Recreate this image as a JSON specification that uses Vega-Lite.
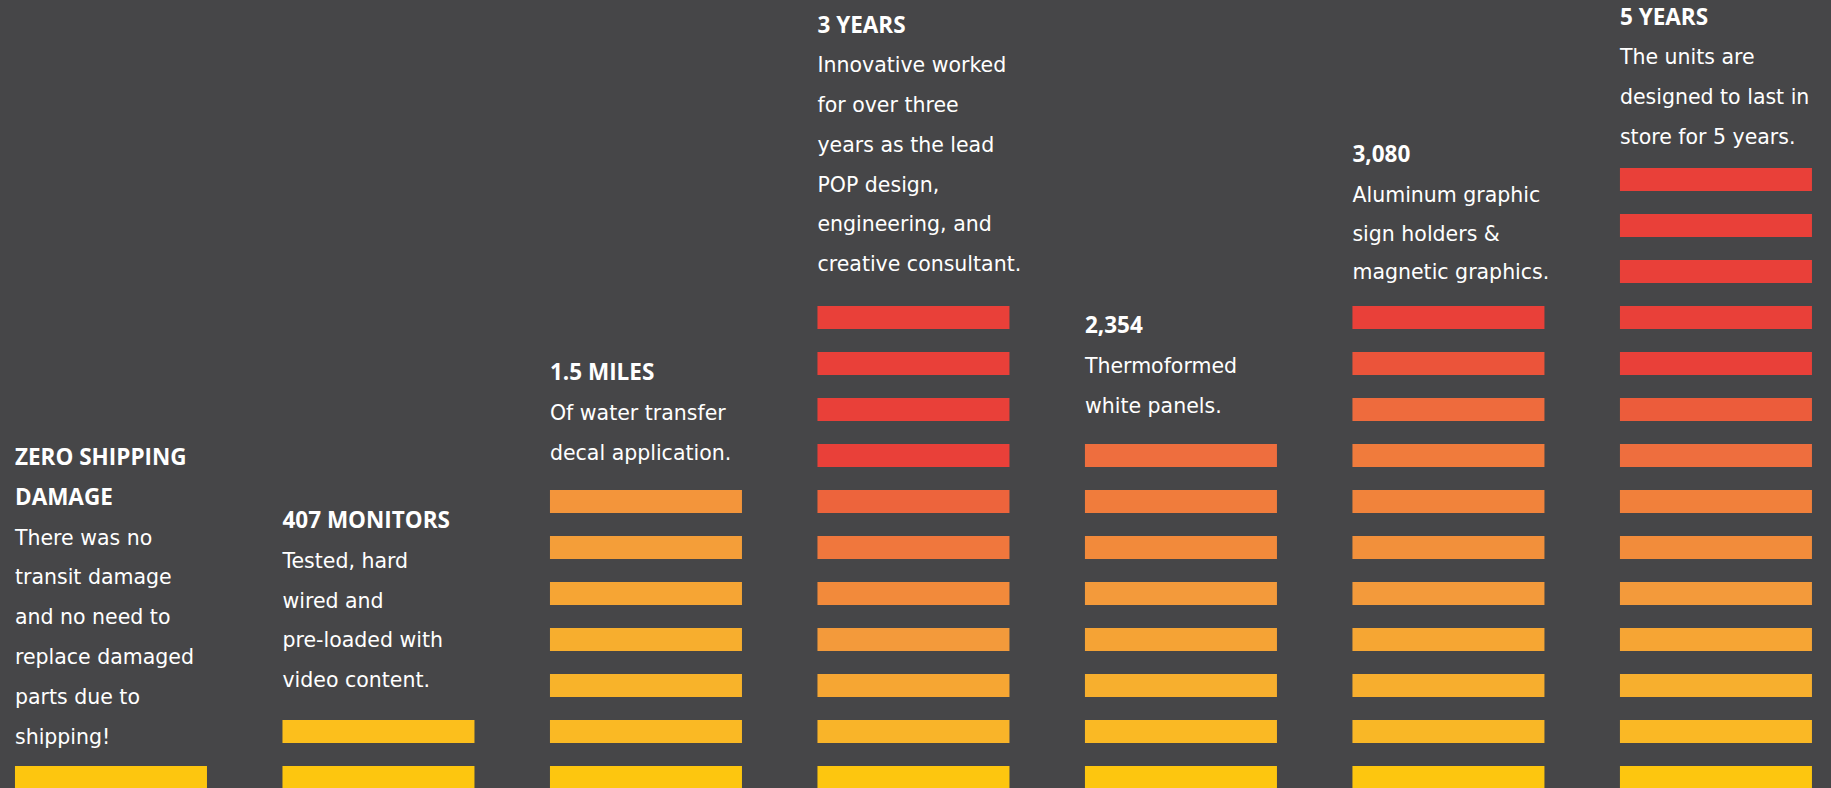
{
  "$schema": "https://vega.github.io/schema/vega-lite/v6.json",
  "width": 1831,
  "height": 788,
  "autosize": {"type": "fit", "contains": "padding"},
  "padding": 0,
  "background": "#464648",
  "config": {"view": {"stroke": null}},
  "datasets": {
    "bars": [
      {"col": 1, "row": 1, "heat": 0},
      {"col": 2, "row": 1, "heat": 0}, {"col": 2, "row": 2, "heat": 0.08},
      {"col": 3, "row": 1, "heat": 0}, {"col": 3, "row": 2, "heat": 0.15}, {"col": 3, "row": 3, "heat": 0.21}, {"col": 3, "row": 4, "heat": 0.27}, {"col": 3, "row": 5, "heat": 0.37}, {"col": 3, "row": 6, "heat": 0.455}, {"col": 3, "row": 7, "heat": 0.53},
      {"col": 4, "row": 1, "heat": 0}, {"col": 4, "row": 2, "heat": 0.2}, {"col": 4, "row": 3, "heat": 0.36}, {"col": 4, "row": 4, "heat": 0.5}, {"col": 4, "row": 5, "heat": 0.59}, {"col": 4, "row": 6, "heat": 0.7}, {"col": 4, "row": 7, "heat": 0.81}, {"col": 4, "row": 8, "heat": 1}, {"col": 4, "row": 9, "heat": 1}, {"col": 4, "row": 10, "heat": 1}, {"col": 4, "row": 11, "heat": 1},
      {"col": 5, "row": 1, "heat": 0}, {"col": 5, "row": 2, "heat": 0.15}, {"col": 5, "row": 3, "heat": 0.26}, {"col": 5, "row": 4, "heat": 0.39}, {"col": 5, "row": 5, "heat": 0.5}, {"col": 5, "row": 6, "heat": 0.59}, {"col": 5, "row": 7, "heat": 0.67}, {"col": 5, "row": 8, "heat": 0.75},
      {"col": 6, "row": 1, "heat": 0}, {"col": 6, "row": 2, "heat": 0.17}, {"col": 6, "row": 3, "heat": 0.27}, {"col": 6, "row": 4, "heat": 0.36}, {"col": 6, "row": 5, "heat": 0.5}, {"col": 6, "row": 6, "heat": 0.56}, {"col": 6, "row": 7, "heat": 0.63}, {"col": 6, "row": 8, "heat": 0.68}, {"col": 6, "row": 9, "heat": 0.77}, {"col": 6, "row": 10, "heat": 0.9}, {"col": 6, "row": 11, "heat": 1},
      {"col": 7, "row": 1, "heat": 0}, {"col": 7, "row": 2, "heat": 0.16}, {"col": 7, "row": 3, "heat": 0.26}, {"col": 7, "row": 4, "heat": 0.37}, {"col": 7, "row": 5, "heat": 0.5}, {"col": 7, "row": 6, "heat": 0.58}, {"col": 7, "row": 7, "heat": 0.65}, {"col": 7, "row": 8, "heat": 0.75}, {"col": 7, "row": 9, "heat": 0.86}, {"col": 7, "row": 10, "heat": 1}, {"col": 7, "row": 11, "heat": 1}, {"col": 7, "row": 12, "heat": 1}, {"col": 7, "row": 13, "heat": 1}, {"col": 7, "row": 14, "heat": 1}
    ],
    "texts": [
      {"col": 1, "kind": "title", "y": 7.04, "text": "ZERO SHIPPING"},
      {"col": 1, "kind": "title", "y": 6.17, "text": "DAMAGE"},
      {"col": 1, "kind": "body", "y": 5.30, "text": "There was no"},
      {"col": 1, "kind": "body", "y": 4.43, "text": "transit damage"},
      {"col": 1, "kind": "body", "y": 3.57, "text": "and no need to"},
      {"col": 1, "kind": "body", "y": 2.70, "text": "replace damaged"},
      {"col": 1, "kind": "body", "y": 1.83, "text": "parts due to"},
      {"col": 1, "kind": "body", "y": 0.96, "text": "shipping!"},
      {"col": 2, "kind": "title", "y": 5.65, "text": "407 MONITORS"},
      {"col": 2, "kind": "body", "y": 4.78, "text": "Tested, hard"},
      {"col": 2, "kind": "body", "y": 3.91, "text": "wired and"},
      {"col": 2, "kind": "body", "y": 3.07, "text": "pre-loaded with"},
      {"col": 2, "kind": "body", "y": 2.20, "text": "video content."},
      {"col": 3, "kind": "title", "y": 8.87, "text": "1.5 MILES"},
      {"col": 3, "kind": "body", "y": 8.00, "text": "Of water transfer"},
      {"col": 3, "kind": "body", "y": 7.15, "text": "decal application."},
      {"col": 4, "kind": "title", "y": 16.43, "text": "3 YEARS"},
      {"col": 4, "kind": "body", "y": 15.59, "text": "Innovative worked"},
      {"col": 4, "kind": "body", "y": 14.72, "text": "for over three"},
      {"col": 4, "kind": "body", "y": 13.85, "text": "years as the lead"},
      {"col": 4, "kind": "body", "y": 12.98, "text": "POP design,"},
      {"col": 4, "kind": "body", "y": 12.13, "text": "engineering, and"},
      {"col": 4, "kind": "body", "y": 11.26, "text": "creative consultant."},
      {"col": 5, "kind": "title", "y": 9.91, "text": "2,354"},
      {"col": 5, "kind": "body", "y": 9.04, "text": "Thermoformed"},
      {"col": 5, "kind": "body", "y": 8.17, "text": "white panels."},
      {"col": 6, "kind": "title", "y": 13.63, "text": "3,080"},
      {"col": 6, "kind": "body", "y": 12.76, "text": "Aluminum graphic"},
      {"col": 6, "kind": "body", "y": 11.91, "text": "sign holders &"},
      {"col": 6, "kind": "body", "y": 11.07, "text": "magnetic graphics."},
      {"col": 7, "kind": "title", "y": 16.61, "text": "5 YEARS"},
      {"col": 7, "kind": "body", "y": 15.76, "text": "The units are"},
      {"col": 7, "kind": "body", "y": 14.89, "text": "designed to last in"},
      {"col": 7, "kind": "body", "y": 14.02, "text": "store for 5 years."}
    ]
  },
  "layer": [
    {
      "data": {"name": "bars"},
      "mark": {"type": "rect"},
      "encoding": {
        "x": {"field": "col", "type": "ordinal", "axis": null,
              "scale": {"domain": [1, 2, 3, 4, 5, 6, 7], "paddingInner": 0.2822, "paddingOuter": 0.0636, "align": 0.44}},
        "y": {"field": "row", "type": "ordinal", "axis": null,
              "scale": {"domain": [14, 13, 12, 11, 10, 9, 8, 7, 6, 5, 4, 3, 2, 1], "range": [168, 789], "paddingInner": 0.5, "paddingOuter": 0}},
        "color": {"field": "heat", "type": "quantitative", "legend": null,
                  "scale": {"domain": [0, 0.25, 0.5, 0.75, 1], "range": ["#FDC60F", "#F7B02D", "#F39A3B", "#EE6E3E", "#E94039"]}}
      }
    },
    {
      "data": {"name": "texts"},
      "transform": [{"filter": "datum.kind === 'title'"}],
      "mark": {"type": "text", "align": "left", "baseline": "alphabetic", "font": "Open Sans", "fontSize": 22.5, "fontWeight": "bold", "color": "#FFFFFF"},
      "encoding": {
        "x": {"field": "col", "type": "ordinal", "bandPosition": 0, "axis": null},
        "y": {"field": "y", "type": "quantitative", "axis": null, "scale": {"domain": [0.0217, 17.152], "nice": false, "zero": false}},
        "text": {"field": "text", "type": "nominal"}
      }
    },
    {
      "data": {"name": "texts"},
      "transform": [{"filter": "datum.kind === 'body'"}],
      "mark": {"type": "text", "align": "left", "baseline": "alphabetic", "font": "DejaVu Sans", "fontSize": 20.5, "fontWeight": "normal", "color": "#FFFFFF"},
      "encoding": {
        "x": {"field": "col", "type": "ordinal", "bandPosition": 0, "axis": null},
        "y": {"field": "y", "type": "quantitative", "axis": null, "scale": {"domain": [0.0217, 17.152], "nice": false, "zero": false}},
        "text": {"field": "text", "type": "nominal"}
      }
    }
  ],
  "resolve": {"scale": {"y": "independent"}}
}
